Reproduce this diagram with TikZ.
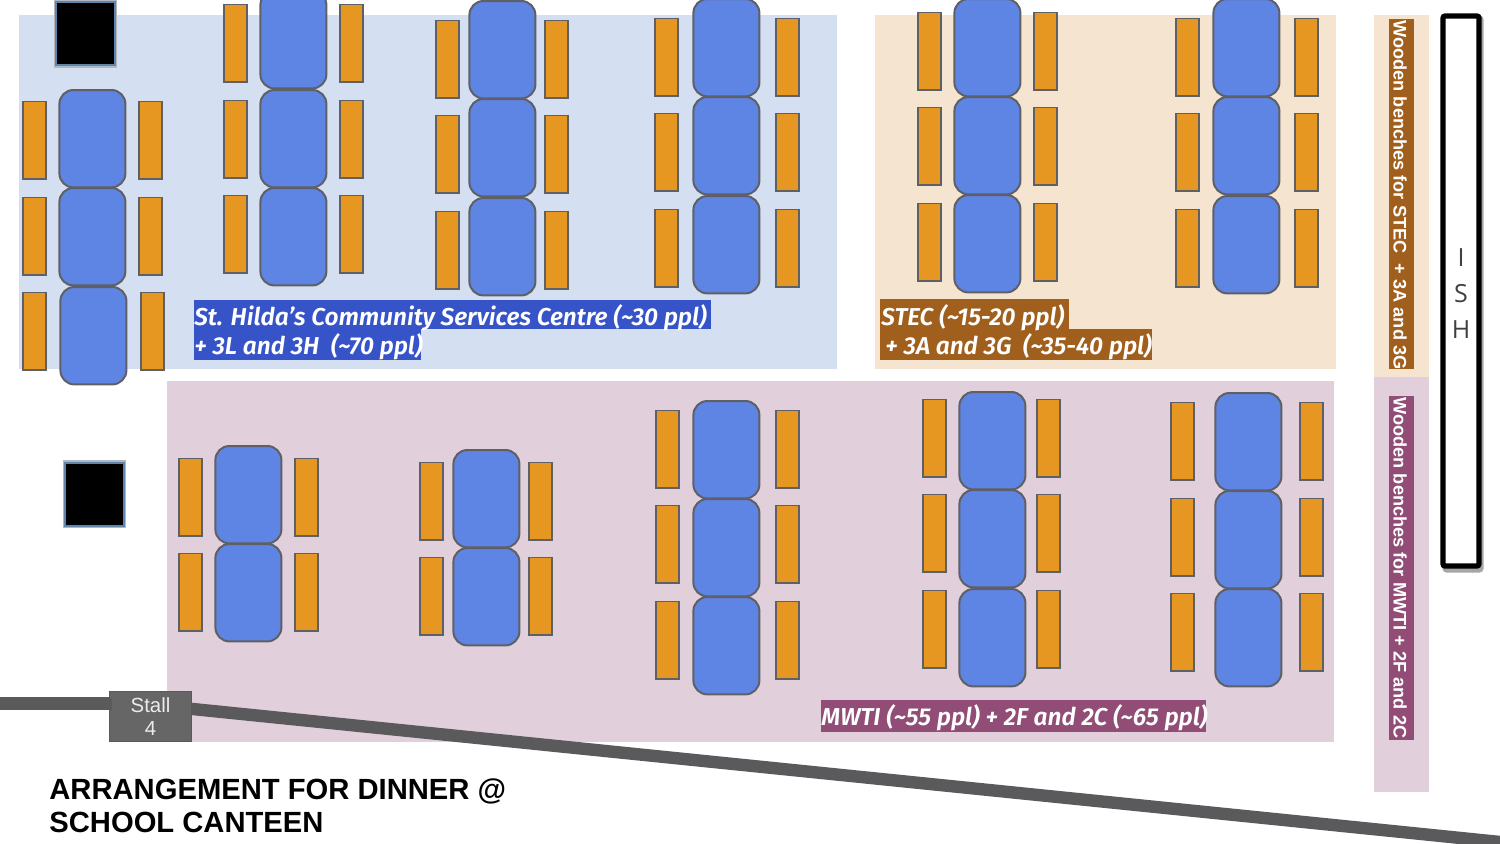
\documentclass[tikz,border=0pt]{standalone}
\usepackage{fontspec}
\setmainfont{Liberation Sans}
\newfontfamily\lblfont[ItalicFont={Fira Sans SemiBold Italic}]{Fira Sans}
\newfontfamily\ishfont{Open Sans}
\definecolor{pblue}{HTML}{D4E0F1}
\definecolor{ptan}{HTML}{F4E4D0}
\definecolor{pmauve}{HTML}{E1D0DC}
\definecolor{tblue}{HTML}{5E84E4}
\definecolor{seat}{HTML}{E69722}
\definecolor{edge}{HTML}{5F6065}
\definecolor{hblue}{HTML}{3654C8}
\definecolor{htan}{HTML}{A05F1C}
\definecolor{hmauve}{HTML}{914D76}
\definecolor{road}{HTML}{5A5A5C}
\definecolor{stallc}{HTML}{666666}
\definecolor{glowblue}{HTML}{5D86AE}
\definecolor{glowgrey}{HTML}{B4B8BC}
\tikzset{
  x=0.5pt,y=-0.5pt,
  panel/.style={fill=#1,draw=none,inner sep=0,outer sep=0,anchor=north west},
  tablebox/.style={draw=edge,fill=tblue,line width=1pt,rounded corners=7pt,inner sep=0,outer sep=0,anchor=north west,minimum width=33pt,minimum height=48.7pt,xshift=0.2pt},
  seatbox/.style={draw=edge,fill=seat,line width=0.9pt,inner sep=0,outer sep=0,anchor=north west,minimum width=11.2pt,minimum height=38.6pt,xshift=0.1pt,yshift=-0.2pt},
  hl/.style={fill=#1,inner sep=0,outer sep=0,anchor=north west},
  hltext/.style={anchor=west,inner sep=0,text=white,font=\lblfont\itshape\fontsize{12.2}{14}\selectfont},
  vtext/.style={text=white,inner sep=0,rotate=-90,anchor=west,font=\bfseries\fontsize{9.1}{11}\selectfont},
  pillar/.style={fill=black,draw=glowblue,line width=1.1pt,inner sep=0,outer sep=0,anchor=north west,minimum width=29.5pt,minimum height=31.5pt},
  pillarglow/.style={fill=glowgrey,inner sep=0,outer sep=0,anchor=north west,minimum width=31.5pt,minimum height=34pt},
}
\newcommand{\pnl}[6]{\node[panel=#6,minimum width=#4*0.5pt,minimum height=#5*0.5pt] (#1) at (#2,#3) {};}
\newcommand{\tb}[3]{\node[tablebox] (#1) at (#2,#3) {};}
\newcommand{\st}[3]{\node[seatbox] (#1) at (#2,#3) {};}
\begin{document}
\begin{tikzpicture}
\useasboundingbox (0,0) rectangle (1500,843);
\clip (0,0) rectangle (1500,843);
\pnl{zoneshc}{19}{15}{818}{354}{pblue}
\pnl{zonestec}{875}{15}{461}{354}{ptan}
\pnl{zonemwti}{167}{381}{1167}{361}{pmauve}
\pnl{benchstec}{1374}{15}{55}{362}{ptan}
\pnl{benchmwti}{1374}{377}{55}{415}{pmauve}
% road
\coordinate (roadw) at (0,703.5);
\coordinate (roade) at (1510,843);
\coordinate (stallw) at (118,703.5);
\coordinate (stalle) at (183,708);
\draw[road,line width=6.2pt] (stalle) -- (roade);
\draw[road,line width=6.4pt] (roadw) -- (stallw);
\node[fill=stallc,draw=road,line width=0.5pt,inner sep=0,outer sep=0,anchor=north west,minimum width=41pt,minimum height=25pt,text=white!92!black,align=center,font=\fontsize{10.2}{12.5}\selectfont,yshift=-0.8pt] (stall) at (109.5,690) {\raisebox{-1pt}{Stall}\\4};
\fill[road] (110,698) rectangle (112,710);
% pillars
\node[pillarglow] (pillaraglow) at (54,0) {};
\node[pillar] (pillara) at (56,2) {};
\node[pillarglow] (pillarbglow) at (63,460) {};
\node[pillar] (pillarb) at (65,463) {};
% group 1
\tb{a1}{59}{90}\tb{a2}{59}{188}\tb{a3}{60}{287}
\st{as1}{23}{101}\st{as2}{23}{197}\st{as3}{23}{292}
\st{as4}{139}{101}\st{as5}{139}{197}\st{as6}{141}{292}
% group 2
\tb{b1}{260}{-9}\tb{b2}{260}{90}\tb{b3}{260}{188}
\st{bs1}{224}{4}\st{bs2}{224}{100}\st{bs3}{224}{195}
\st{bs4}{340}{4}\st{bs5}{340}{100}\st{bs6}{340}{195}
% group 3
\tb{c1}{469}{1}\tb{c2}{469}{99}\tb{c3}{469}{198}
\st{cs1}{436}{20}\st{cs2}{436}{115}\st{cs3}{436}{211}
\st{cs4}{545}{20}\st{cs5}{545}{115}\st{cs6}{545}{211}
% group 4
\tb{d1}{693}{-1}\tb{d2}{693}{97}\tb{d3}{693}{196}
\st{ds1}{655}{18}\st{ds2}{655}{113}\st{ds3}{655}{209}
\st{ds4}{776}{18}\st{ds5}{776}{113}\st{ds6}{776}{209}
% group 5
\tb{e1}{954}{-1}\tb{e2}{954}{97}\tb{e3}{954}{195}
\st{es1}{918}{12}\st{es2}{918}{107}\st{es3}{918}{203}
\st{es4}{1034}{12}\st{es5}{1034}{107}\st{es6}{1034}{203}
% group 6
\tb{f1}{1213}{-1}\tb{f2}{1213}{97}\tb{f3}{1213}{196}
\st{fs1}{1176}{18}\st{fs2}{1176}{113}\st{fs3}{1176}{209}
\st{fs4}{1295}{18}\st{fs5}{1295}{113}\st{fs6}{1295}{209}
% group 7
\tb{g1}{215}{446}\tb{g2}{215}{544}
\st{gs1}{179}{458}\st{gs2}{179}{553}
\st{gs4}{295}{458}\st{gs5}{295}{553}
% group 8
\tb{h1}{453}{450}\tb{h2}{453}{548}
\st{hs1}{420}{462}\st{hs2}{420}{557}
\st{hs4}{529}{462}\st{hs5}{529}{557}
% group 9
\tb{i1}{693}{401}\tb{i2}{693}{499}\tb{i3}{693}{597}
\st{is1}{656}{410}\st{is2}{656}{505}\st{is3}{656}{601}
\st{is4}{776}{410}\st{is5}{776}{505}\st{is6}{776}{601}
% group 10
\tb{j1}{959}{392}\tb{j2}{959}{490}\tb{j3}{959}{589}
\st{js1}{923}{399}\st{js2}{923}{494}\st{js3}{923}{590}
\st{js4}{1037}{399}\st{js5}{1037}{494}\st{js6}{1037}{590}
% group 11
\tb{k1}{1215}{393}\tb{k2}{1215}{491}\tb{k3}{1215}{589}
\st{ks1}{1171}{402}\st{ks2}{1171}{498}\st{ks3}{1171}{593}
\st{ks4}{1300}{402}\st{ks5}{1300}{498}\st{ks6}{1300}{593}
% labels
\node[hl=hblue,minimum width=258.5pt,minimum height=14.5pt] (shc1) at (194,300) {};
\node[hl=hblue,minimum width=113.5pt,minimum height=15.5pt] (shc2) at (194,329) {};
\node[hltext] (shc1t) at (194,317.5) {St. Hilda’s Community Services Centre (\char`\~30 ppl)};
\node[hltext] (shc2t) at (194,346.5) {+ 3L and 3H\ \ (\char`\~70 ppl)};
\node[hl=htan,minimum width=94.5pt,minimum height=15pt] (stec1) at (880,299) {};
\node[hl=htan,minimum width=136pt,minimum height=15.5pt] (stec2) at (880,329) {};
\node[hltext] (stec1t) at (881,317.5) {STEC (\char`\~15-20 ppl)};
\node[hltext] (stec2t) at (885,346.5) {+ 3A and 3G\ \ (\char`\~35-40 ppl)};
\node[hl=hmauve,minimum width=192.5pt,minimum height=16pt] (mwti) at (821,700) {};
\node[hltext] (mwtit) at (821,718) {MWTI (\char`\~55 ppl) + 2F and 2C (\char`\~65 ppl)};
% vertical labels
\node[fill=htan,inner sep=0,outer sep=0,minimum width=12.5pt,minimum height=175pt] (bench1bg) at (1401.5,194) {};
\node[vtext] (bench1) at (1400,20) {Wooden benches for STEC\ \ + 3A and 3G};
\node[fill=hmauve,inner sep=0,outer sep=0,minimum width=12.5pt,minimum height=172pt] (bench2bg) at (1401.5,568) {};
\node[vtext] (bench2) at (1400,397) {Wooden benches for MWTI + 2F and 2C};
% ISH
\node[draw=black!35,line width=2.6pt,inner sep=0,outer sep=0,anchor=north west,minimum width=18pt,minimum height=276pt,rounded corners=1pt] (ishs) at (1445,18) {};
\node[draw=black,fill=white,line width=2.6pt,inner sep=0,outer sep=0,anchor=north west,minimum width=18pt,minimum height=275pt,rounded corners=1pt] (ish) at (1443,16) {};
\node[text=black!75,inner sep=0,align=center,font=\ishfont\fontsize{12.5}{18}\selectfont] (ishl) at (1461,294) {I\\S\\H};
% title
\node[anchor=north west,inner sep=0,align=left,font=\bfseries\fontsize{14.6}{16.5}\selectfont,text=black] (title) at (49,778) {ARRANGEMENT FOR DINNER @\\SCHOOL CANTEEN};
\end{tikzpicture}
\end{document}
